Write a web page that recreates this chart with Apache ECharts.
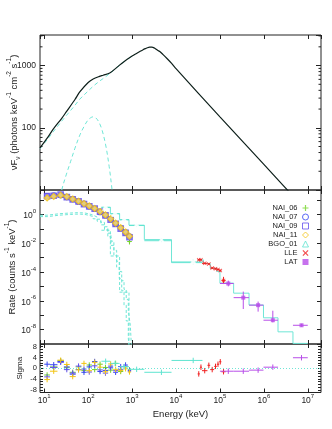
<!DOCTYPE html>
<html>
<head>
<meta charset="utf-8">
<script src="https://cdn.jsdelivr.net/npm/echarts@6/dist/echarts.min.js"></script>
<style>
  html, body { margin: 0; padding: 0; background: #fff; }
  #chart { width: 332px; height: 429px; }
</style>
</head>
<body>
<div id="chart"></div>
<script>
// top panel: nuFnu model (keV, photons keV-1 cm-2 s-1)
const totalE = [8, 12, 16, 25, 32, 50, 65, 100, 130, 180, 220, 310, 450, 630, 1000, 1260, 1500, 1780, 2000, 2240, 2510, 2820, 3160, 3550, 3980, 4270, 5010, 6310, 7940, 1e4, 1e5, 1e6, 1e7];
const totalF = [47.5, 70, 95, 142, 182, 285, 380, 535, 610, 670, 700, 760, 935, 1135, 1420, 1567, 1683, 1800, 1871, 1936, 1972, 1972, 1928, 1828, 1726, 1680, 1514, 1288, 1084, 890, 150, 25.8, 4.4];
const cplE = [8, 12, 16, 25, 32, 50, 65, 100, 130, 180, 220, 310, 450, 630, 1000];
const cplF = [46, 66, 86, 128, 158, 230, 290, 390, 465, 560, 620, 745, 930, 1130, 1420];
const bbE = [22, 25, 32, 40, 50, 65, 80, 100, 130, 160, 200, 250, 300, 350, 400];
const bbF = [6, 10, 18, 29, 47, 77, 104, 134, 150, 137, 99, 53, 24, 10, 4];
const vfvMinorTicks = [20, 30, 40, 50, 60, 70, 80, 90, 200, 300, 400, 500, 600, 700, 800, 900, 2000, 3000];

// middle panel: count rates (counts s-1 keV-1)
const naiEdges = [10, 13.5, 20, 28, 38, 52, 70, 92, 122, 162, 215, 285, 370, 480, 630, 800, 950];
const nai06Rate = [17, 21, 23, 17, 11, 8.1, 5.4, 3.8, 2.4, 1.5, 0.9, 0.46, 0.24, 0.11, 0.05, 0.013];
const nai07Rate = [19, 21, 22, 16, 11.8, 7.7, 5.6, 3.6, 2.5, 1.45, 0.86, 0.48, 0.22, 0.115, 0.056, 0.03];
const nai09Rate = [18.5, 20, 23.5, 16.2, 11.2, 8.0, 5.3, 3.7, 2.55, 1.55, 0.87, 0.44, 0.22, 0.105, 0.052, 0.026];
const nai11Rate = [14, 18, 22, 17.4, 11.8, 8.3, 5.7, 3.9, 2.6, 1.6, 0.93, 0.5, 0.25, 0.12, 0.06, 0.031];
const naiErr = [0.06, 0.05, 0.04, 0.04, 0.04, 0.04, 0.04, 0.04, 0.05, 0.05, 0.06, 0.07, 0.08, 0.1, 0.12, 0.2];
const naiModel = [17.5, 20.5, 22.5, 16.8, 11.5, 8.0, 5.5, 3.75, 2.5, 1.52, 0.89, 0.47, 0.23, 0.112, 0.054, 0.028];

const bbEdges = [8, 12, 16, 22, 30, 40, 52, 66, 84, 105, 130, 160, 195, 235, 280, 330, 385, 445, 510, 580, 655, 735, 820, 910, 1000];
const bbNaiA = [0.89, 1.0, 1.12, 1.2, 1.26, 1.32, 1.32, 1.26, 1.1, 0.89, 0.66, 0.47, 0.28, 0.14, 0.05, 0.014, 3.2e-3, 5.6e-4, 1.1e-4, 2.5e-5, 6.3e-6, 1.26e-6, 2.0e-7, 2.0e-8, 1e-10];
const bbNaiB = [0.71, 0.79, 0.89, 0.95, 1.0, 1.05, 1.05, 1.0, 0.87, 0.71, 0.5, 0.34, 0.19, 0.089, 0.028, 7.1e-3, 1.4e-3, 2.2e-4, 3.5e-5, 5.0e-6, 5.0e-7, 4.0e-8, 2.5e-9, 1e-10, 1e-10];

const bgoLo = [200, 320, 520, 850, 1900, 7900];
const bgoHi = [320, 520, 850, 1900, 7900, 40000];
const bgoE = [250, 410, 660, 1270, 4650, 24600];
const bgoRate = [3.0, 1.1, 0.42, 0.17, 0.015, 5.0e-4];
const bgoErr = [0.08, 0.08, 0.1, 0.12, 0.15, 0.2];
const bgoModelEdges = [200, 320, 520, 850, 1900, 7900, 40000];
const bgoModel = [3.2, 1.15, 0.44, 0.18, 0.018, 4.5e-4];
const bbBgoEdges = [200, 320, 520, 850];
const bbBgo = [0.08, 1.3e-3, 4e-6, 1e-10];

const lleEdges = [31000, 35000, 39000, 52000, 60000, 74000, 85000, 96000, 108000, 135000];
const lleRate = [7.2e-4, 7.2e-4, 4.0e-4, 3.6e-4, 1.9e-4, 1.7e-4, 1.5e-4, 1.26e-4, 2.6e-5];
const lleErr = [0.05, 0.05, 0.05, 0.05, 0.06, 0.06, 0.06, 0.07, 0.25];

const latLo = [100000, 205000, 460000, 980000, 4600000];
const latHi = [205000, 460000, 980000, 2100000, 10000000];
const latE = [155000, 340000, 740000, 1600000, 7200000];
const latRate = [1.6e-5, 1.66e-6, 5e-7, 4.5e-8, 2.0e-8];
const latUp = [0.2, 0.42, 0.25, 0.66, 0.1];
const latDn = [0.2, 0.79, 0.45, 0.15, 0.1];

const hiModelEdges = [31000, 42000, 60000, 85000, 100000, 205000, 460000, 980000, 2100000, 4600000, 10000000];
const hiModel = [7.0e-4, 3.9e-4, 1.8e-4, 1.1e-4, 1.7e-5, 3.4e-6, 5.1e-7, 6.6e-8, 7.0e-9, 1.1e-9];

// bottom panel: residuals (sigma)
const nai06Sigma = [-2.5, 0.5, 2.8, 0.2, -1.5, 0.5, -0.8, 1.2, -0.5, 1.5, 0.3, -0.7, 1.8, -1.2, 0.5, -0.6];
const nai07Sigma = [1.5, 1.3, 2.5, 0.5, -2.2, -0.5, -1.5, 0.5, 2.5, -1.2, -0.8, 0.8, -1.5, 0.6, 1.2, -0.8];
const nai09Sigma = [-3.2, 0.3, 2.2, -0.5, -1.8, 0.8, -0.3, -1.4, 0.9, -0.6, -1.8, 0.2, -0.9, -0.4, 0.7, -1.1];
const nai11Sigma = [-4.2, -1.1, 3.0, 1.4, -3.1, -0.6, 1.8, -0.9, 2.2, 0.4, -1.3, 1.6, -0.4, -0.8, -0.2, -1.4];
const bgoSigma = [2.6, 1.8, 0.6, -0.4, -1.5, 2.9];
const lleSigma = [-2.1, 0.4, -0.9, 1.1, -0.5, 0.7, 1.5, 2.4, -1.3];
const latSigma = [-1.1, -1.1, -0.7, 0.4, 3.9];

const FONT = 'Liberation Sans, Arial, sans-serif';
const INK = '#222';
const CYAN = '#6fe6d6';
const COL = {
    NAI_06: '#74d428', NAI_07: '#3346f2', NAI_09: '#6450ec', NAI_11: '#f2c414',
    BGO_01: '#5fe4d0', LLE: '#f02020', LAT: '#b84ee8'
};
const PLUS = 'path://M4,0H6V4H10V6H6V10H4V6H0V4H4Z';
const CROSS = 'path://M1.4,0L5,3.6L8.6,0L10,1.4L6.4,5L10,8.6L8.6,10L5,6.4L1.4,10L0,8.6L3.6,5L0,1.4Z';

const lg = Math.log10;
const mid = (a, b) => (lg(a) + lg(b)) / 2;
const lows = e => e.slice(0, -1);
const highs = e => e.slice(1);

function curve(xs, ys) {
    return xs.map((x, i) => [lg(x), lg(ys[i])]);
}
function steps(edges, vals) {
    return edges.map((e, i) => [lg(e), lg(vals[Math.min(i, vals.length - 1)])]);
}
function rateBars(lo, hi, xs, rate, up, dn) {
    return rate.map((r, i) => [lg(xs[i]), lg(r), lg(lo[i]), lg(hi[i]), lg(r) - dn[i], lg(r) + up[i]]);
}
function sigmaBars(lo, hi, xs, sig) {
    return sig.map((s, i) => [lg(xs[i]), s, lg(lo[i]), lg(hi[i]), s - 1, s + 1]);
}

const naiX = lows(naiEdges).map((e, i) => Math.pow(10, mid(e, naiEdges[i + 1])));
const lleX = lows(lleEdges).map((e, i) => Math.pow(10, mid(e, lleEdges[i + 1])));

function drawCross(params, api) {
    const l = api.coord([api.value(2), api.value(1)]);
    const r = api.coord([api.value(3), api.value(1)]);
    const lo = api.coord([api.value(0), api.value(4)]);
    const hi = api.coord([api.value(0), api.value(5)]);
    const style = { stroke: api.visual('color'), lineWidth: 1 };
    return {
        type: 'group',
        children: [
            { type: 'line', shape: { x1: l[0], y1: l[1], x2: r[0], y2: r[1] }, style: style },
            { type: 'line', shape: { x1: lo[0], y1: lo[1], x2: hi[0], y2: hi[1] }, style: style }
        ]
    };
}
function crossSeries(name, data, color, axis) {
    return {
        name: name, type: 'custom', xAxisIndex: axis, yAxisIndex: axis, z: 3, clip: true, silent: true,
        itemStyle: { color: color }, encode: { x: [0, 2, 3], y: [1, 4, 5] },
        data: data, renderItem: drawCross
    };
}
// short log minor ticks on both sides of the top panel
function drawMinor(params, api) {
    const cs = params.coordSys;
    const y = api.coord([lg(8), api.value(0)])[1];
    const style = { stroke: INK, lineWidth: 1 };
    return {
        type: 'group',
        children: [
            { type: 'line', shape: { x1: cs.x, y1: y, x2: cs.x + 2.5, y2: y }, style: style },
            { type: 'line', shape: { x1: cs.x + cs.width - 2.5, y1: y, x2: cs.x + cs.width, y2: y }, style: style }
        ]
    };
}
function markSeries(name, data, symbol, size, color, border) {
    return {
        name: name, type: 'scatter', xAxisIndex: 2, yAxisIndex: 2, z: 4, silent: true,
        symbol: symbol, symbolSize: size,
        itemStyle: border ? { color: border, borderColor: color, borderWidth: 1.2 } : { color: color, borderWidth: 0 },
        data: data.map(d => [d[0], d[1]])
    };
}
function lineSeries(data, axis, opts) {
    return Object.assign({
        type: 'line', xAxisIndex: axis, yAxisIndex: axis, z: 1, silent: true,
        showSymbol: false, symbol: 'none', data: data,
        lineStyle: { color: CYAN, width: 1 }
    }, opts);
}

const nai06Bars = rateBars(lows(naiEdges), highs(naiEdges), naiX, nai06Rate, naiErr, naiErr);
const nai07Bars = rateBars(lows(naiEdges), highs(naiEdges), naiX, nai07Rate, naiErr, naiErr);
const nai09Bars = rateBars(lows(naiEdges), highs(naiEdges), naiX, nai09Rate, naiErr, naiErr);
const nai11Bars = rateBars(lows(naiEdges), highs(naiEdges), naiX, nai11Rate, naiErr, naiErr);
const bgoBars = rateBars(bgoLo, bgoHi, bgoE, bgoRate, bgoErr, bgoErr);
const lleBars = rateBars(lows(lleEdges), highs(lleEdges), lleX, lleRate, lleErr, lleErr);
const latBars = rateBars(latLo, latHi, latE, latRate, latUp, latDn);

const tick = { inside: true, length: 4, lineStyle: { color: INK, width: 1 } };
const supRich = {
    b: { fontSize: 8.5, fontFamily: FONT, color: INK, padding: [3, 0, 0, 0] },
    s: { fontSize: 6, fontFamily: FONT, color: INK, verticalAlign: 'top' }
};
function powLabel(v) {
    const n = Math.round(v);
    if (Math.abs(v - n) > 1e-6) return '';
    return '{b|10}{s|' + n + '}';
}
const grids = [
    { left: 40, right: 11, top: 35, height: 155 },
    { left: 40, right: 11, top: 190, height: 154 },
    { left: 40, right: 11, top: 344, height: 48.5 }
].map(g => Object.assign(g, { show: true, borderColor: INK, borderWidth: 1, outerBoundsMode: 'none' }));

function xAxisFor(gi, pos, withLabels) {
    return {
        type: 'value', gridIndex: gi, position: pos,
        min: lg(8), max: lg(2e7), splitNumber: 7, minInterval: 1, maxInterval: 1,
        axisLine: { show: false, onZero: false }, splitLine: { show: false }, axisTick: tick,
        axisLabel: withLabels ? { show: true, margin: 1, formatter: powLabel, rich: supRich, showMinLabel: false, showMaxLabel: false } : { show: false },
        name: withLabels ? 'Energy (keV)' : '', nameLocation: 'middle', nameGap: 17, nameMoveOverlap: false,
        nameTextStyle: { fontSize: 9.5, fontFamily: FONT, color: INK }
    };
}
function yAxisFor(gi, pos, cfg) {
    return Object.assign({
        type: 'value', gridIndex: gi, position: pos,
        axisLine: { show: false, onZero: false }, splitLine: { show: false }, axisTick: tick,
        nameLocation: 'middle', nameMoveOverlap: false
    }, cfg);
}
const nameRich = {
    t: { fontSize: 9.5, fontFamily: FONT, color: INK, padding: [3, 0, 3, 0] },
    s: { fontSize: 6.5, fontFamily: FONT, color: INK, verticalAlign: 'top' },
    u: { fontSize: 6.5, fontFamily: FONT, color: INK, verticalAlign: 'bottom' }
};

const topY = {
    min: 1, max: lg(3100), interval: 1,
    axisTick: { inside: true, length: 5, lineStyle: { color: INK, width: 1 } },
    axisLabel: {
        show: true, margin: 4, fontSize: 8.5, fontFamily: FONT, color: INK,
        formatter: v => (Math.abs(v - 2) < 1e-6 ? '100' : Math.abs(v - 3) < 1e-6 ? '1000' : '')
    }
};
const midY = {
    min: -9, max: lg(50), interval: 1,
    axisLabel: {
        show: true, margin: 4, rich: supRich,
        formatter: v => (Math.round(v) % 2 === 0 ? powLabel(v) : '')
    }
};
const botY = {
    min: -9, max: 9, interval: 1,
    axisTick: { inside: true, length: 3, lineStyle: { color: INK, width: 1 } },
    axisLabel: {
        show: true, margin: 3, fontSize: 7.5, fontFamily: FONT, color: INK,
        formatter: v => (v % 4 === 0 ? String(v) : '')
    }
};

const option = {
    animation: false,
    backgroundColor: '#fff',
    grid: grids,
    xAxis: [
        xAxisFor(0, 'bottom', false), xAxisFor(0, 'top', false),
        xAxisFor(1, 'bottom', false), xAxisFor(1, 'top', false),
        xAxisFor(2, 'bottom', true), xAxisFor(2, 'top', false)
    ],
    yAxis: [
        yAxisFor(0, 'left', Object.assign({}, topY, {
            name: '{t|νF}{u|ν}{t| (photons keV}{s|-1}{t| cm}{s|-2}{t| s}{s|-1}{t|)}',
            nameGap: 18, nameTextStyle: { rich: nameRich }
        })),
        yAxisFor(0, 'right', Object.assign({}, topY, { axisLabel: { show: false } })),
        yAxisFor(1, 'left', Object.assign({}, midY, {
            name: '{t|Rate (counts s}{s|-1}{t| keV}{s|-1}{t|)}',
            nameGap: 20, nameTextStyle: { rich: nameRich }
        })),
        yAxisFor(1, 'right', Object.assign({}, midY, { axisLabel: { show: false } })),
        yAxisFor(2, 'left', Object.assign({}, botY, {
            name: 'Sigma', nameGap: 16,
            nameTextStyle: { fontSize: 8, fontFamily: FONT, color: INK }
        })),
        yAxisFor(2, 'right', Object.assign({}, botY, { axisLabel: { show: false } }))
    ],
    legend: {
        orient: 'vertical', right: 18, top: 199, align: 'right',
        itemWidth: 6, itemHeight: 6, itemGap: 1,
        textStyle: { fontSize: 7.5, fontFamily: FONT, color: INK, lineHeight: 8 },
        selectedMode: false,
        data: [
            { name: 'NAI_06', icon: PLUS, itemStyle: { color: COL.NAI_06, borderWidth: 0 } },
            { name: 'NAI_07', icon: 'circle', itemStyle: { color: '#fff', borderColor: COL.NAI_07, borderWidth: 1 } },
            { name: 'NAI_09', icon: 'rect', itemStyle: { color: '#fff', borderColor: COL.NAI_09, borderWidth: 1 } },
            { name: 'NAI_11', icon: 'diamond', itemStyle: { color: '#fff', borderColor: COL.NAI_11, borderWidth: 1 } },
            { name: 'BGO_01', icon: 'triangle', itemStyle: { color: '#fff', borderColor: COL.BGO_01, borderWidth: 1 } },
            { name: 'LLE', icon: CROSS, itemStyle: { color: COL.LLE, borderWidth: 0 } },
            { name: 'LAT', icon: 'rect', itemStyle: { color: COL.LAT, borderWidth: 0 } }
        ]
    },
    series: [
        // top panel
        {
            type: 'custom', xAxisIndex: 0, yAxisIndex: 0, silent: true, z: 5,
            data: vfvMinorTicks.map(v => [lg(v)]), encode: { y: 0 }, renderItem: drawMinor
        },
        lineSeries(curve(cplE, cplF), 0, { smooth: 0.35, lineStyle: { color: CYAN, width: 1, type: [4, 3] } }),
        lineSeries(curve(bbE, bbF), 0, { smooth: 0.35, lineStyle: { color: CYAN, width: 1, type: [4, 3] } }),
        lineSeries(curve(totalE, totalF), 0, { smooth: 0.3, z: 2, lineStyle: { color: '#0d1f1a', width: 1.2 } }),

        // middle panel: model components and folded models
        lineSeries(steps(bbEdges, bbNaiA), 2, { step: 'end', lineStyle: { color: CYAN, width: 1, type: [3, 2] } }),
        lineSeries(steps(bbEdges, bbNaiB), 2, { step: 'end', lineStyle: { color: CYAN, width: 1, type: [3, 2] } }),
        lineSeries(steps(bbBgoEdges, bbBgo), 2, { step: 'end', lineStyle: { color: CYAN, width: 1, type: [3, 2] } }),
        lineSeries(steps(naiEdges, naiModel), 2, { step: 'end' }),
        lineSeries(steps(bgoModelEdges, bgoModel), 2, { step: 'end' }),
        lineSeries(steps(hiModelEdges, hiModel), 2, { step: 'end' }),

        // middle panel: data
        crossSeries('e06', nai06Bars, COL.NAI_06, 2),
        crossSeries('e07', nai07Bars, COL.NAI_07, 2),
        crossSeries('e09', nai09Bars, COL.NAI_09, 2),
        crossSeries('e11', nai11Bars, COL.NAI_11, 2),
        crossSeries('eBGO', bgoBars, COL.BGO_01, 2),
        crossSeries('eLLE', lleBars, COL.LLE, 2),
        crossSeries('eLAT', latBars, COL.LAT, 2),
        markSeries('NAI_06', nai06Bars, PLUS, 5, COL.NAI_06, null),
        markSeries('NAI_07', nai07Bars, 'circle', 5, COL.NAI_07, '#8f9af8'),
        markSeries('NAI_09', nai09Bars, 'rect', 5.5, COL.NAI_09, '#8d7ef4'),
        markSeries('NAI_11', nai11Bars, 'diamond', 6, COL.NAI_11, '#f8dc6a'),
        markSeries('BGO_01', bgoBars, 'emptyTriangle', 4.5, COL.BGO_01, '#fff'),
        markSeries('LLE', lleBars, CROSS, 4, COL.LLE, null),
        markSeries('LAT', latBars, 'rect', 4, COL.LAT, null),

        // bottom panel: residuals
        {
            type: 'line', xAxisIndex: 4, yAxisIndex: 4, data: [], silent: true,
            markLine: {
                silent: true, symbol: ['none', 'none'], label: { show: false },
                lineStyle: { color: CYAN, width: 1, type: [1, 2] },
                data: [{ yAxis: 0 }]
            }
        },
        crossSeries('r06', sigmaBars(lows(naiEdges), highs(naiEdges), naiX, nai06Sigma), COL.NAI_06, 4),
        crossSeries('r07', sigmaBars(lows(naiEdges), highs(naiEdges), naiX, nai07Sigma), COL.NAI_07, 4),
        crossSeries('r09', sigmaBars(lows(naiEdges), highs(naiEdges), naiX, nai09Sigma), COL.NAI_09, 4),
        crossSeries('r11', sigmaBars(lows(naiEdges), highs(naiEdges), naiX, nai11Sigma), COL.NAI_11, 4),
        crossSeries('rBGO', sigmaBars(bgoLo, bgoHi, bgoE, bgoSigma), COL.BGO_01, 4),
        crossSeries('rLLE', sigmaBars(lows(lleEdges), highs(lleEdges), lleX, lleSigma), COL.LLE, 4),
        crossSeries('rLAT', sigmaBars(latLo, latHi, latE, latSigma), COL.LAT, 4)
    ]
};

const chart = echarts.init(document.getElementById('chart'), null, { renderer: 'canvas' });
chart.setOption(option);
</script>
</body>
</html>
